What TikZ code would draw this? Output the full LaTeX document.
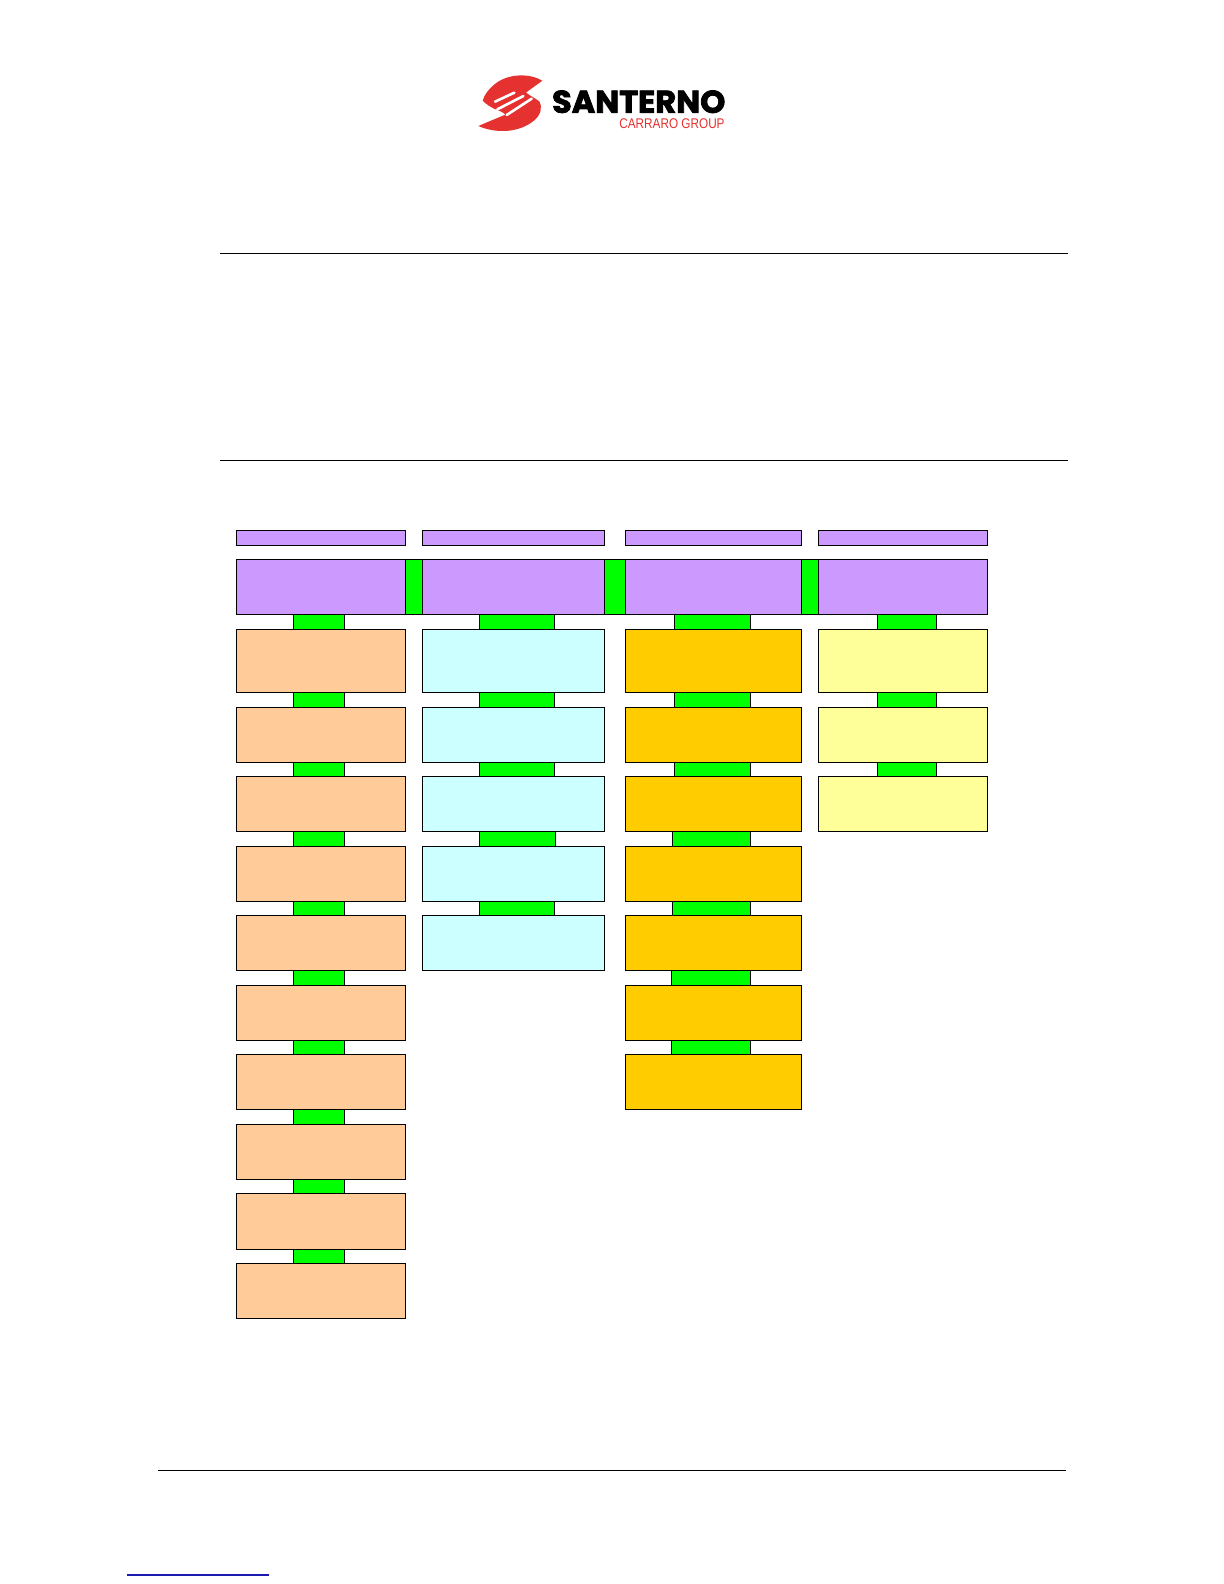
\documentclass[tikz,border=0pt]{standalone}
\usepackage{fontspec}
\usepackage{graphicx}
\usetikzlibrary{fit}
\newfontfamily\logofont[FakeBold=2.5]{Poppins}
\newfontfamily\subfont{Liberation Sans}
\definecolor{purp}{HTML}{CC99FF}
\definecolor{peach}{HTML}{FFCC99}
\definecolor{cyanb}{HTML}{CCFFFF}
\definecolor{ambr}{HTML}{FFCC00}
\definecolor{lemon}{HTML}{FFFF99}
\definecolor{linkg}{HTML}{00FF00}
\definecolor{logored}{HTML}{E5312F}
\definecolor{linkblue}{HTML}{1A1AB0}
\tikzset{
  x=0.5pt,y=-0.5pt,
  box/.style={draw=black,line width=0.6pt,inner sep=0pt,outer sep=0pt},
  headbox/.style={box,fill=purp},
  pbox/.style={box,fill=peach},
  cbox/.style={box,fill=cyanb},
  abox/.style={box,fill=ambr},
  ybox/.style={box,fill=lemon},
  glink/.style={box,fill=linkg},
  rule/.style={draw=black,line width=0.6pt}
}
% \rb{name}{style}{x1}{y1}{x2}{y2}
\newcommand{\rb}[6]{\node[#2,fit={(#3,#4)(#5,#6)}] (#1) {};}
\begin{document}
\begin{tikzpicture}
\useasboundingbox (0,0) rectangle (1224,1584);
\fill[white] (0,0) rectangle (1224,1584);
% logo (coordinates in the 3x zoom frame origin 460,60)
\begin{scope}[shift={(460,60)},x=0.1667pt,y=-0.1667pt]
\fill[logored] (247,62) .. controls (210,40) and (150,40) .. (110,68)
  .. controls (88,84) and (72,105) .. (68,122)
  .. controls (78,132) and (90,140) .. (102,146)
  .. controls (120,153) and (130,157) .. (136,164)
  .. controls (110,175) and (85,185) .. (55,198)
  .. controls (110,222) and (180,218) .. (224,180)
  .. controls (244,162) and (247,140) .. (238,124)
  .. controls (225,115) and (212,108) .. (198,98)
  .. controls (210,88) and (230,75) .. (247,62) -- cycle;
\draw[white,line width=1.3pt,line cap=round] (105,125) -- (163,98);
\draw[white,line width=1.3pt,line cap=round] (112,148) -- (190,108);
\draw[white,line width=1.3pt,line cap=round] (140,165) -- (215,116);
\end{scope}
\node[inner sep=0pt,anchor=north west] (logoname) at (551.7,90) {\resizebox{86.6pt}{11.2pt}{\logofont\bfseries SANTERNO}};
\node[inner sep=0pt,anchor=north west,text=logored] (logosub) at (619,118.6) {\resizebox{52.6pt}{4.9pt}{\subfont CARRARO GROUP}};
% rules
\coordinate (r1a) at (220,253.3); \coordinate (r1b) at (1068,253.3);
\coordinate (r2a) at (220,460.4); \coordinate (r2b) at (1068,460.4);
\coordinate (r3a) at (158.3,1470.3); \coordinate (r3b) at (1065.5,1470.3);
\coordinate (r4a) at (127,1575); \coordinate (r4b) at (269,1575);
\draw[rule] (r1a) -- (r1b);
\draw[rule] (r2a) -- (r2b);
\draw[rule] (r3a) -- (r3b);
\draw[draw=linkblue,line width=0.6pt] (r4a) -- (r4b);
% horizontal green links
\rb{h1}{glink}{405.7}{559.3}{422.3}{614.3}
\rb{h2}{glink}{604.7}{559.3}{625.3}{614.3}
\rb{h3}{glink}{801.7}{559.3}{818.3}{614.3}
% column 1 links
\rb{ga0}{glink}{293.3}{614.3}{344.3}{629.3}
\rb{ga1}{glink}{293.3}{692.3}{344.3}{707.3}
\rb{ga2}{glink}{293.3}{762.7}{344.3}{776.3}
\rb{ga3}{glink}{293.3}{831.3}{344.3}{846.3}
\rb{ga4}{glink}{293.3}{901.3}{344.3}{915.3}
\rb{ga5}{glink}{293.3}{970.3}{344.3}{985.3}
\rb{ga6}{glink}{293.3}{1040.3}{344.3}{1054.3}
\rb{ga7}{glink}{293.3}{1109.3}{344.3}{1124.3}
\rb{ga8}{glink}{293.3}{1179.3}{344.3}{1193.3}
\rb{ga9}{glink}{293.3}{1249.3}{344.3}{1263.3}
% column 2 links
\rb{gb0}{glink}{479.3}{614.3}{554.3}{629.3}
\rb{gb1}{glink}{479.3}{692.3}{554.3}{707.3}
\rb{gb2}{glink}{479.3}{762.7}{554.3}{776.3}
\rb{gb3}{glink}{479.3}{831.3}{555.3}{846.3}
\rb{gb4}{glink}{479.3}{901.3}{554.3}{915.3}
% column 3 links
\rb{gc0}{glink}{674.3}{614.3}{750.3}{629.3}
\rb{gc1}{glink}{674.3}{692.3}{750.3}{707.3}
\rb{gc2}{glink}{674.3}{762.7}{750.3}{776.3}
\rb{gc3}{glink}{672.3}{831.3}{750.3}{846.3}
\rb{gc4}{glink}{672.3}{901.3}{750.3}{915.3}
\rb{gc5}{glink}{671.3}{970.3}{750.3}{985.3}
\rb{gc6}{glink}{671.3}{1040.3}{750.3}{1054.3}
% column 4 links
\rb{gd0}{glink}{877.3}{614.3}{936.7}{629.3}
\rb{gd1}{glink}{877.3}{692.3}{936.7}{707.3}
\rb{gd2}{glink}{877.3}{762.7}{936.7}{776.3}
% headers
\rb{ta}{headbox}{236.3}{530.3}{405.7}{545.3}
\rb{tb}{headbox}{422.3}{530.3}{604.7}{545.3}
\rb{tc}{headbox}{625.3}{530.3}{801.7}{545.3}
\rb{td}{headbox}{818.3}{530.3}{987.7}{545.3}
\rb{ha}{headbox}{236.3}{559.3}{405.7}{614.3}
\rb{hb}{headbox}{422.3}{559.3}{604.7}{614.3}
\rb{hc}{headbox}{625.3}{559.3}{801.7}{614.3}
\rb{hd}{headbox}{818.3}{559.3}{987.7}{614.3}
% column 1 boxes
\rb{a1}{pbox}{236.3}{629.3}{405.7}{692.3}
\rb{a2}{pbox}{236.3}{707.3}{405.7}{762.7}
\rb{a3}{pbox}{236.3}{776.3}{405.7}{831.3}
\rb{a4}{pbox}{236.3}{846.3}{405.7}{901.3}
\rb{a5}{pbox}{236.3}{915.3}{405.7}{970.3}
\rb{a6}{pbox}{236.3}{985.3}{405.7}{1040.3}
\rb{a7}{pbox}{236.3}{1054.3}{405.7}{1109.3}
\rb{a8}{pbox}{236.3}{1124.3}{405.7}{1179.3}
\rb{a9}{pbox}{236.3}{1193.3}{405.7}{1249.3}
\rb{a10}{pbox}{236.3}{1263.3}{405.7}{1318.3}
% column 2 boxes
\rb{b1}{cbox}{422.3}{629.3}{604.7}{692.3}
\rb{b2}{cbox}{422.3}{707.3}{604.7}{762.7}
\rb{b3}{cbox}{422.3}{776.3}{604.7}{831.3}
\rb{b4}{cbox}{422.3}{846.3}{604.7}{901.3}
\rb{b5}{cbox}{422.3}{915.3}{604.7}{970.3}
% column 3 boxes
\rb{c1}{abox}{625.3}{629.3}{801.7}{692.3}
\rb{c2}{abox}{625.3}{707.3}{801.7}{762.7}
\rb{c3}{abox}{625.3}{776.3}{801.7}{831.3}
\rb{c4}{abox}{625.3}{846.3}{801.7}{901.3}
\rb{c5}{abox}{625.3}{915.3}{801.7}{970.3}
\rb{c6}{abox}{625.3}{985.3}{801.7}{1040.3}
\rb{c7}{abox}{625.3}{1054.3}{801.7}{1109.3}
% column 4 boxes
\rb{d1}{ybox}{818.3}{629.3}{987.7}{692.3}
\rb{d2}{ybox}{818.3}{707.3}{987.7}{762.7}
\rb{d3}{ybox}{818.3}{776.3}{987.7}{831.3}
\end{tikzpicture}
\end{document}
